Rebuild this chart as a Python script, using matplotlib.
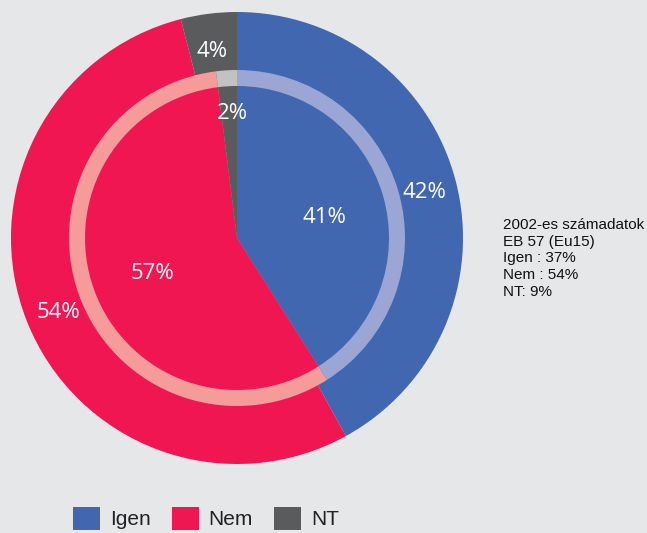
import matplotlib
matplotlib.use("Agg")
import matplotlib.pyplot as plt
from matplotlib.patches import Patch

plt.rcParams['font.family'] = ['Liberation Sans', 'DejaVu Sans']

categories = ["Igen", "Nem", "NT"]
outer_values = [42, 54, 4]
inner_values = [41, 57, 2]
colors = ["#4167b1", "#ef1651", "#5a5b5d"]
ring_colors = ["#9ba6d5", "#f59b9a", "#c2c2c4"]
note_lines = ["2002-es számadatok", "EB 57 (Eu15)", "Igen : 37%", "Nem : 54%", "NT: 9%"]

W, H = 647, 533
bg = "#e6e7e9"
fig = plt.figure(figsize=(W / 100, H / 100), dpi=100, facecolor=bg)
ax = fig.add_axes([0, 0, 1, 1])
ax.set_facecolor(bg)

cx, cy = 237, H - 238
R_out, R_ring, R_in = 226, 168, 152

kw = dict(startangle=90, counterclock=False, center=(cx, cy),
          wedgeprops=dict(linewidth=0), frame=True)
ax.pie(outer_values, radius=R_out, colors=colors, **kw)
ax.pie(inner_values, radius=R_ring, colors=ring_colors, **kw)
ax.pie(inner_values, radius=R_in, colors=colors, **kw)

# labels (x centre, baseline y in pixel coords from top)
outer_pos = [(424, 198), (58, 318), (212, 57)]
inner_pos = [(324, 223), (152, 279), (232, 119)]
lab_font = dict(color="white", fontsize=16, family=['Open Sans', 'DejaVu Sans'],
                ha="center", va="baseline")
for v, (x, y) in zip(outer_values, outer_pos):
    ax.text(x, H - y, f"{v}%", **lab_font)
for v, (x, y) in zip(inner_values, inner_pos):
    ax.text(x, H - y, f"{v}%", **lab_font)

for i, line in enumerate(note_lines):
    ax.text(503, H - (229 + i * 16.7), line, fontsize=11, color="#111111",
            ha="left", va="baseline")

ax.set_xlim(0, W)
ax.set_ylim(0, H)
ax.set_aspect("equal")
ax.set_axis_off()

handles = [Patch(facecolor=c, edgecolor="none") for c in colors]
fig.legend(handles, categories, loc="upper left",
           bbox_to_anchor=(73 / W, 1 - 507 / H), ncol=3, frameon=False,
           prop=dict(family=['Liberation Sans', 'DejaVu Sans'], size=15),
           handlelength=1.3, handleheight=1.3,
           handletextpad=0.48, columnspacing=1.0, borderaxespad=0, borderpad=0,
           labelcolor="#222222")

fig.savefig("out.png", dpi=100, facecolor=bg)
